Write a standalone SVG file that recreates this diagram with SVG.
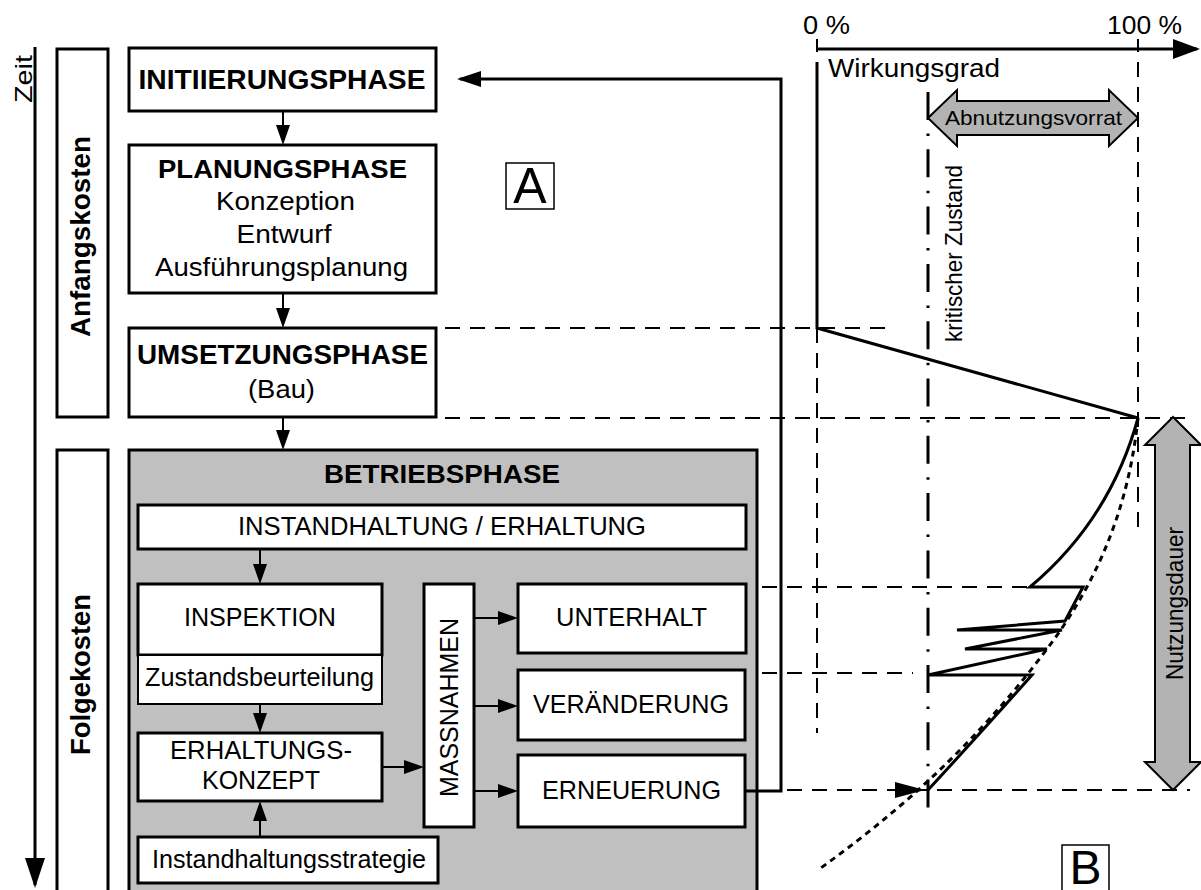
<svg xmlns="http://www.w3.org/2000/svg" width="1201" height="890" viewBox="0 0 1201 890">
<style>
text{font-family:"Liberation Sans",Arial,sans-serif;fill:#000}
.b{font-weight:bold}
.box{fill:#fff;stroke:#000;stroke-width:3}
.thin{fill:#fff;stroke:#000;stroke-width:2}
.con{fill:none;stroke:#000;stroke-width:2}
.dash{fill:none;stroke:#000;stroke-width:2;stroke-dasharray:15 10}
.solid{fill:none;stroke:#000;stroke-width:3}
.garrow{fill:#b3b3b3;stroke:#000;stroke-width:2}
</style>
<defs>
<marker id="ah" markerUnits="userSpaceOnUse" markerWidth="20" markerHeight="14" refX="17" refY="7" orient="auto"><path d="M0,0 L20,7 L0,14 z" fill="#000"/></marker>
<marker id="ahf" markerUnits="userSpaceOnUse" markerWidth="24" markerHeight="16" refX="21" refY="8" orient="auto"><path d="M0,0 L24,8 L0,16 z" fill="#000"/></marker>
<marker id="ahz" markerUnits="userSpaceOnUse" markerWidth="30" markerHeight="20" refX="27" refY="10" orient="auto"><path d="M0,0 L30,10 L0,20 z" fill="#000"/></marker>
<marker id="aha" markerUnits="userSpaceOnUse" markerWidth="27" markerHeight="20" refX="24" refY="10" orient="auto"><path d="M0,0 L27,10 L0,20 z" fill="#000"/></marker>
</defs>

<g id="zeit">
<path d="M35,47 L35,885" class="solid" marker-end="url(#ahz)"/>
<text transform="translate(32,79) rotate(-90)" text-anchor="middle" font-size="24" textLength="48" lengthAdjust="spacingAndGlyphs">Zeit</text>
</g>

<g id="anfangskosten">
<rect x="57" y="49" width="51" height="368" class="box"/>
<text class="b" transform="translate(90,236.5) rotate(-90)" text-anchor="middle" font-size="27" textLength="201" lengthAdjust="spacingAndGlyphs">Anfangskosten</text>
</g>
<g id="folgekosten">
<rect x="57" y="450" width="51" height="460" class="box"/>
<text class="b" transform="translate(90,674.5) rotate(-90)" text-anchor="middle" font-size="27" textLength="161" lengthAdjust="spacingAndGlyphs">Folgekosten</text>
</g>

<g id="initiierung">
<rect x="129" y="48" width="307" height="63" class="box"/>
<text class="b" x="282" y="89" text-anchor="middle" font-size="28" textLength="287" lengthAdjust="spacingAndGlyphs">INITIIERUNGSPHASE</text>
</g>
<g id="planung">
<rect x="129" y="145" width="307" height="148" class="box"/>
<text class="b" x="282.5" y="178" text-anchor="middle" font-size="26" textLength="249" lengthAdjust="spacingAndGlyphs">PLANUNGSPHASE</text>
<text x="285.5" y="210" text-anchor="middle" font-size="25" textLength="139" lengthAdjust="spacingAndGlyphs">Konzeption</text>
<text x="284" y="243" text-anchor="middle" font-size="25" textLength="95" lengthAdjust="spacingAndGlyphs">Entwurf</text>
<text x="281.5" y="276" text-anchor="middle" font-size="25" textLength="253" lengthAdjust="spacingAndGlyphs">Ausführungsplanung</text>
</g>
<g id="umsetzung">
<rect x="129" y="328" width="307" height="89" class="box"/>
<text class="b" x="282.5" y="364" text-anchor="middle" font-size="27" textLength="291" lengthAdjust="spacingAndGlyphs">UMSETZUNGSPHASE</text>
<text x="281.5" y="398" text-anchor="middle" font-size="25" textLength="67" lengthAdjust="spacingAndGlyphs">(Bau)</text>
</g>

<g id="betrieb">
<rect x="129" y="450" width="628" height="460" fill="#c0c0c0" stroke="#000" stroke-width="3"/>
<text class="b" x="442" y="483" text-anchor="middle" font-size="26" textLength="236" lengthAdjust="spacingAndGlyphs">BETRIEBSPHASE</text>
</g>
<g id="instandhaltung">
<rect x="138" y="505" width="608" height="44" class="box"/>
<text x="442" y="535" text-anchor="middle" font-size="26" textLength="408" lengthAdjust="spacingAndGlyphs">INSTANDHALTUNG / ERHALTUNG</text>
</g>
<g id="inspektion">
<rect x="138" y="584" width="244" height="71" class="box"/>
<text x="260" y="626" text-anchor="middle" font-size="26" textLength="152" lengthAdjust="spacingAndGlyphs">INSPEKTION</text>
</g>
<g id="zustandsbeurteilung">
<rect x="138" y="655" width="244" height="49" class="thin"/>
<text x="259.5" y="686" text-anchor="middle" font-size="26" textLength="229" lengthAdjust="spacingAndGlyphs">Zustandsbeurteilung</text>
</g>
<g id="erhaltungskonzept">
<rect x="138" y="733" width="244" height="68" class="box"/>
<text x="261" y="759" text-anchor="middle" font-size="26" textLength="182" lengthAdjust="spacingAndGlyphs">ERHALTUNGS-</text>
<text x="261" y="789" text-anchor="middle" font-size="26" textLength="118" lengthAdjust="spacingAndGlyphs">KONZEPT</text>
</g>
<g id="strategie">
<rect x="138" y="837" width="300" height="46" class="box"/>
<text x="289" y="868" text-anchor="middle" font-size="26" textLength="274" lengthAdjust="spacingAndGlyphs">Instandhaltungsstrategie</text>
</g>
<g id="massnahmen">
<rect x="424" y="584" width="50" height="243" class="box"/>
<text transform="translate(458,707.5) rotate(-90)" text-anchor="middle" font-size="26" textLength="179" lengthAdjust="spacingAndGlyphs">MASSNAHMEN</text>
</g>
<g id="unterhalt">
<rect x="518" y="584" width="228" height="69" class="box"/>
<text x="631.5" y="626" text-anchor="middle" font-size="26" textLength="151" lengthAdjust="spacingAndGlyphs">UNTERHALT</text>
</g>
<g id="veraenderung">
<rect x="518" y="670" width="227" height="70" class="box"/>
<text x="631" y="713" text-anchor="middle" font-size="26" textLength="196" lengthAdjust="spacingAndGlyphs">VERÄNDERUNG</text>
</g>
<g id="erneuerung">
<rect x="518" y="755" width="227" height="72" class="box"/>
<text x="631.5" y="799" text-anchor="middle" font-size="26" textLength="179" lengthAdjust="spacingAndGlyphs">ERNEUERUNG</text>
</g>

<g id="label-a">
<rect x="506" y="163" width="48" height="46" fill="none" stroke="#000" stroke-width="1.5"/>
<text x="530" y="203" text-anchor="middle" font-size="50">A</text>
</g>
<g id="label-b">
<rect x="1062" y="845" width="47" height="60" fill="none" stroke="#000" stroke-width="1.5"/>
<text x="1085.5" y="884" text-anchor="middle" font-size="48">B</text>
</g>

<g id="connectors">
<path d="M283,111 L283,142" class="con" marker-end="url(#ah)"/>
<path d="M283,293 L283,325" class="con" marker-end="url(#ah)"/>
<path d="M283,417 L283,447" class="con" marker-end="url(#ah)"/>
<path d="M260,549 L260,581" class="con" marker-end="url(#ah)"/>
<path d="M260,704 L260,730" class="con" marker-end="url(#ah)"/>
<path d="M260,837 L260,804" class="con" marker-end="url(#ah)"/>
<path d="M382,767 L421,767" class="con" marker-end="url(#ah)"/>
<path d="M474,618 L515,618" class="con" marker-end="url(#ah)"/>
<path d="M474,706 L515,706" class="con" marker-end="url(#ah)"/>
<path d="M474,791 L515,791" class="con" marker-end="url(#ah)"/>
<path d="M745,791 L781,791 L781,79 L460,79" fill="none" stroke="#000" stroke-width="3" marker-end="url(#ahf)"/>
</g>

<g id="chart">
<path d="M817,49 L1197,49" class="solid" marker-end="url(#aha)"/>
<path d="M817,39 L817,52 M1138,39 L1138,52" stroke="#000" stroke-width="2"/>
<text x="803" y="34" font-size="25" textLength="47" lengthAdjust="spacingAndGlyphs">0 %</text>
<text x="1107" y="34" font-size="25" textLength="75" lengthAdjust="spacingAndGlyphs">100 %</text>
<text x="828" y="77" font-size="25" textLength="172" lengthAdjust="spacingAndGlyphs">Wirkungsgrad</text>

<path d="M445,328 H893 M445,418 H1190 M762,587 H1030 M762,673 H913 M787,790 H1190" class="dash"/>
<path d="M817,328 V733 M1138,62 V530" class="dash"/>
<path d="M928,92 V808" fill="none" stroke="#000" stroke-width="3" stroke-dasharray="28 13.5 2.5 13.3"/>
<polygon points="895,782 925,790 895,798" fill="#000"/>

<path d="M817,62 V328 L1138,418" class="solid"/>
<path d="M1138,418 Q1110,520 1030,587 L1083,587 L1065,621 L957,630 L1062,630 L965,649 L1047,649 L928,675 L1032,675 Q985,728 928,790" fill="none" stroke="#000" stroke-width="3" stroke-linejoin="miter"/>
<path d="M1138,418 C1130,495 1105,572 1047,649 C991.5,723 921.6,796 818,870" fill="none" stroke="#000" stroke-width="3" stroke-dasharray="6 5"/>

<polygon points="928,118 957,90 957,101 1109,101 1109,90 1138,118 1109,146 1109,135 957,135 957,146" class="garrow"/>
<text x="945" y="125" font-size="21" textLength="177" lengthAdjust="spacingAndGlyphs">Abnutzungsvorrat</text>
<text transform="translate(962,253.5) rotate(-90)" text-anchor="middle" font-size="24" textLength="177" lengthAdjust="spacingAndGlyphs">kritischer Zustand</text>

<polygon points="1173,417 1201,445 1190,445 1190,762 1201,762 1173,790 1145,762 1155,762 1155,445 1145,445" class="garrow"/>
<text transform="translate(1183,603.5) rotate(-90)" text-anchor="middle" font-size="24" textLength="153" lengthAdjust="spacingAndGlyphs">Nutzungsdauer</text>
</g>
</svg>
